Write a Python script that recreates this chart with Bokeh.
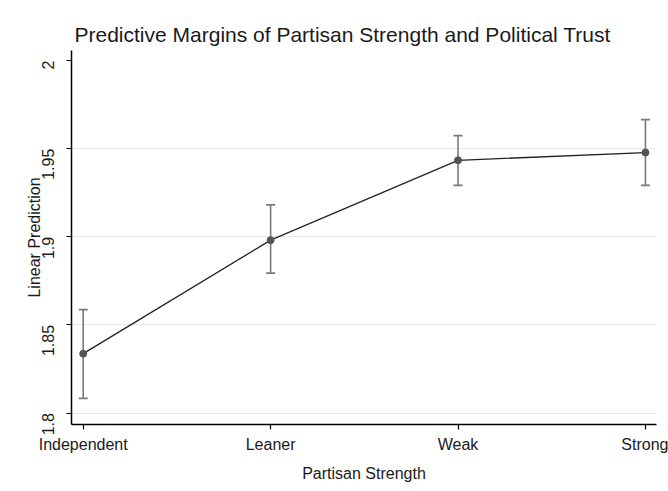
import math
from bokeh.plotting import figure
from bokeh.models import ColumnDataSource, Whisker, TeeHead, FixedTicker, Range1d
from bokeh.embed import file_html
from bokeh.resources import INLINE

categories = ["Independent", "Leaner", "Weak", "Strong"]
margins = [1.8337, 1.8981, 1.9434, 1.9478]
ci_lower = [1.8083, 1.8794, 1.9292, 1.9292]
ci_upper = [1.8587, 1.9181, 1.9574, 1.9665]
y_ticks = [1.8, 1.85, 1.9, 1.95, 2.0]
y_tick_labels = ["1.8", "1.85", "1.9", "1.95", "2"]

xs = list(range(len(categories)))
src = ColumnDataSource(dict(x=xs, y=margins, lo=ci_lower, hi=ci_upper))

FONT = "Liberation Sans"

p = figure(width=668, height=491, output_backend="svg", toolbar_location=None,
           x_range=Range1d(-0.0624, 3.059), y_range=Range1d(1.7935, 2.0057),
           min_border_left=71, min_border_right=12, min_border_top=50, min_border_bottom=67,
           background_fill_color="white", border_fill_color="white")
p.outline_line_color = None

p.title.text = "Predictive Margins of Partisan Strength and Political Trust"
p.title.text_font = FONT
p.title.text_font_size = "21px"
p.title.text_font_style = "normal"
p.title.text_color = "#1a1a1a"
p.title.align = "left"
p.title.offset = 3

# axes
p.xaxis.ticker = FixedTicker(ticks=xs)
p.xaxis.major_label_overrides = {i: c for i, c in enumerate(categories)}
p.yaxis.ticker = FixedTicker(ticks=y_ticks)
p.yaxis.major_label_overrides = {t: l for t, l in zip(y_ticks, y_tick_labels)}
p.yaxis.major_label_orientation = math.pi / 2
p.xaxis.axis_label = "Partisan Strength"
p.yaxis.axis_label = "Linear Prediction"
for ax in (p.xaxis, p.yaxis):
    ax.axis_line_color = "black"
    ax.axis_line_width = 1.5
    ax.major_tick_line_color = "black"
    ax.major_tick_line_width = 1.2
    ax.major_tick_out = 5
    ax.major_tick_in = 0
    ax.minor_tick_line_color = None
    ax.major_label_text_font = FONT
    ax.major_label_text_font_size = "16px"
    ax.major_label_text_color = "#1a1a1a"
    ax.axis_label_text_font = FONT
    ax.axis_label_text_font_size = "16px"
    ax.axis_label_text_font_style = "normal"
    ax.axis_label_text_color = "#1a1a1a"
p.xaxis.major_label_standoff = 6
p.xaxis.axis_label_standoff = 9
p.yaxis.major_label_standoff = 18
p.yaxis.axis_label_standoff = -9

p.xgrid.grid_line_color = None
p.ygrid.ticker = FixedTicker(ticks=y_ticks[:-1])
p.ygrid.grid_line_color = "#e8e8e8"
p.ygrid.grid_line_width = 1

# error bars
w = Whisker(source=src, base="x", lower="lo", upper="hi", dimension="height",
            line_color="#7a7a7a", line_width=1.6,
            upper_head=TeeHead(size=9, line_color="#7a7a7a", line_width=1.6),
            lower_head=TeeHead(size=9, line_color="#7a7a7a", line_width=1.6))
p.add_layout(w)

p.line("x", "y", source=src, line_color="#222222", line_width=1.3)
p.scatter("x", "y", source=src, size=7, marker="circle", fill_color="#555555", line_color="#555555")

open("out.html", "w").write(file_html(p, INLINE))
